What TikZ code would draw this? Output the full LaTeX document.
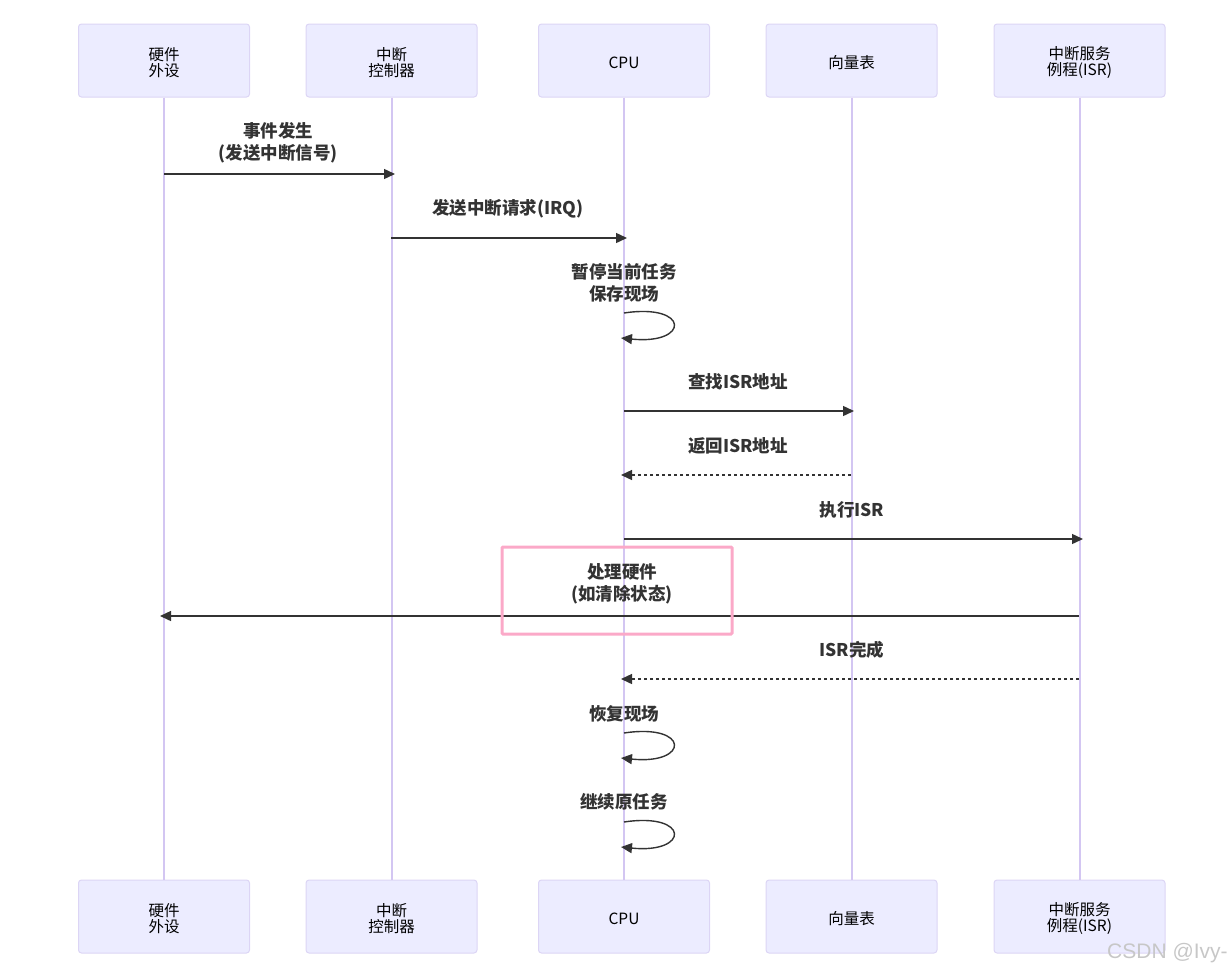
\documentclass[tikz,border=0pt]{standalone}
\usepackage{fontspec}
\setmainfont{Noto Sans CJK SC}
\newfontfamily\wmfont{Liberation Sans}
\usetikzlibrary{arrows.meta}
\definecolor{actfill}{HTML}{ECECFF}
\definecolor{actdraw}{HTML}{DCD5F5}
\definecolor{lifeline}{HTML}{D3C6F2}
\definecolor{msg}{HTML}{333333}
\definecolor{notepink}{HTML}{FBA9C8}
\tikzset{
  actor/.style={draw=actdraw, fill=actfill, line width=1pt, rounded corners=3pt,
    minimum width=171pt, minimum height=73pt, inner sep=0pt, align=center,
    font=\fontsize{15.5}{16}\selectfont, text=black},
  acttext/.style={align=center, font=\fontsize{15.5}{16}\selectfont, text=black, inner sep=0pt},
  life/.style={draw=lifeline, line width=2pt},
  msgline/.style={draw=msg, line width=1.4pt, -{Triangle[length=11pt,width=10pt]}},
  retline/.style={msgline, dash pattern=on 3pt off 3pt},
  lbl/.style={font=\fontsize{17.5}{22}\selectfont\bfseries, text=msg, align=center, inner sep=0pt},
  hlbox/.style={draw=notepink, line width=3pt, rounded corners=1pt}
}
\begin{document}
\begin{tikzpicture}[x=1pt,y=-1pt]
\useasboundingbox (0,0) rectangle (1231,972);
% actors
\foreach \n/\x/\t in {1/164/{硬件\\外设},2/391.5/{中断\\控制器},3/624/{CPU},4/851.5/{向量表},5/1079.5/{中断服务\\例程(ISR)}}{
  \node[actor] (a\n) at (\x,60.5) {};
  \node[acttext] (ta\n) at (\x,62.5) {\t};
  \node[actor] (b\n) at (\x,916.5) {};
  \node[acttext] (tb\n) at (\x,918.5) {\t};
}
\foreach \n in {1,...,5}{\draw[life] (a\n.south) -- (b\n.north);}
% message end points
\coordinate (p1) at (164,174);  \coordinate (q1) at (395,174);
\coordinate (p2) at (391,238);  \coordinate (q2) at (627,238);
\coordinate (s1) at (624,313);  \coordinate (t1) at (621,338);
\coordinate (p4) at (624,411);  \coordinate (q4) at (854,411);
\coordinate (p5) at (851,475);  \coordinate (q5) at (621,475);
\coordinate (p6) at (624,539);  \coordinate (q6) at (1083,539);
\coordinate (p7) at (1079,616); \coordinate (q7) at (160,616);
\coordinate (p8) at (1079,679); \coordinate (q8) at (621,679);
\coordinate (s2) at (624,733);  \coordinate (t2) at (621,758);
\coordinate (s3) at (624,822);  \coordinate (t3) at (621,847);
% messages
\node[lbl] (l1) at (278,142.5) {事件发生\\(发送中断信号)};
\draw[msgline] (p1) -- (q1);
\node[lbl] (l2) at (508,208.5) {发送中断请求(IRQ)};
\draw[msgline] (p2) -- (q2);
\node[lbl] (l3) at (624,282.5) {暂停当前任务\\保存现场};
\draw[msgline] (s1) .. controls (690,303) and (690,345) .. (t1);
\node[lbl] (l4) at (738,381.5) {查找ISR地址};
\draw[msgline] (p4) -- (q4);
\node[lbl] (l5) at (738,445.5) {返回ISR地址};
\draw[retline] (p5) -- (q5);
\node[lbl] (l6) at (852,509.5) {执行ISR};
\draw[msgline] (p6) -- (q6);
\node[lbl] (l7) at (622,584) {处理硬件\\(如清除状态)};
\draw[msgline] (p7) -- (q7);
\node[lbl] (l8) at (852,649.5) {ISR完成};
\draw[retline] (p8) -- (q8);
\node[lbl] (l9) at (624,713.5) {恢复现场};
\draw[msgline] (s2) .. controls (690,723) and (690,765) .. (t2);
\node[lbl] (l10) at (624,801.5) {继续原任务};
\draw[msgline] (s3) .. controls (690,812) and (690,854) .. (t3);
% highlight box
\draw[hlbox] (502,547) rectangle (732,634);
% watermark
\node[font=\wmfont\fontsize{21}{22}\selectfont, text=black!22, anchor=west, inner sep=0pt] (wm) at (1107,953) {CSDN @Ivy-};
\end{tikzpicture}
\end{document}
